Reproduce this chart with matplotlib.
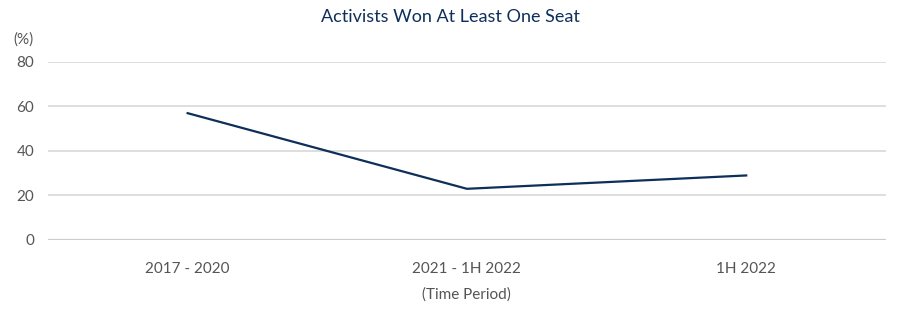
import matplotlib.pyplot as plt

periods = ["2017 - 2020", "2021 - 1H 2022", "1H 2022"]
won_pct = [57, 23, 29]
yticks = [0, 20, 40, 60, 80]

navy = "#0d2f5a"
text_gray = "#555555"

plt.rcParams['font.family'] = ['Lato', 'DejaVu Sans']

fig = plt.figure(figsize=(9, 3.31), dpi=100)
ax = fig.add_axes([0.0533, 0.275, 0.931, 0.5377])

ax.plot(range(len(periods)), won_pct, color=navy, linewidth=1.6, clip_on=False)

ax.set_xlim(-0.5, len(periods) - 0.5)
ax.set_ylim(0, 80)
ax.set_yticks(yticks)
ax.set_xticks(range(len(periods)))
ax.set_xticklabels(periods)

for s in ax.spines.values():
    s.set_visible(False)
ax.grid(axis='y', color='#d4d4d4', linewidth=1.1)
ax.axhline(0, color='#cccccc', linewidth=1.6)
ax.set_axisbelow(True)
ax.tick_params(length=0, labelsize=11, colors=text_gray)
ax.tick_params(axis='x', pad=16)
ax.tick_params(axis='y', pad=10)

ax.set_xlabel("(Time Period)", fontsize=11, color=text_gray, labelpad=8)
fig.text(0.015, 0.88, "(%)", fontsize=11, color=text_gray, ha='left', va='center')
fig.suptitle("Activists Won At Least One Seat", x=0.5, y=0.972, fontsize=13,
             color=navy, va='top')

fig.savefig("out.png", dpi=100)
